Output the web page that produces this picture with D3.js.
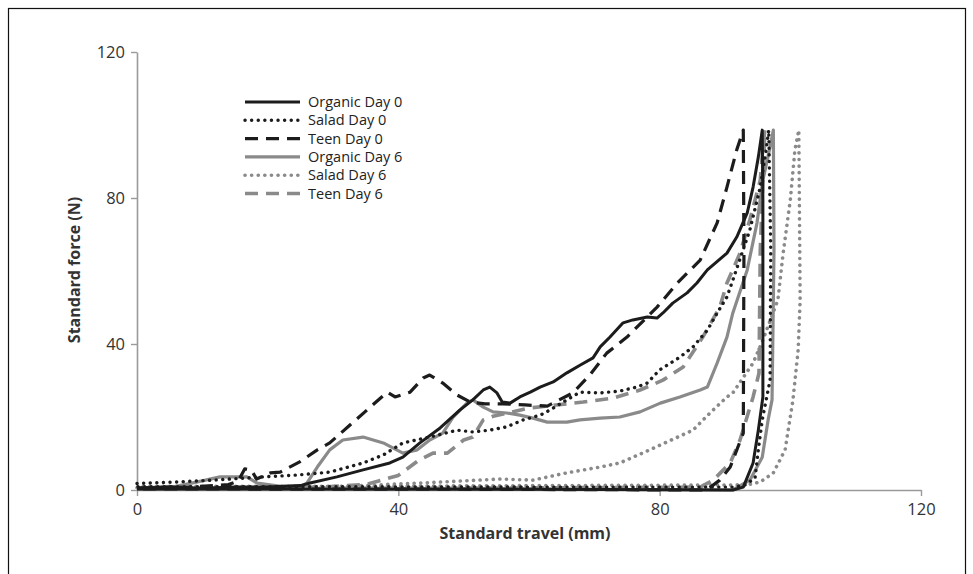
<!DOCTYPE html>
<html>
<head>
<meta charset="utf-8">
<script src="https://cdn.jsdelivr.net/npm/d3@7"></script>
<style>
  body { margin: 0; background: #fff; }
  svg { display: block; font-family: "Open Sans", "Noto Sans", sans-serif; }
</style>
</head>
<body>
<svg id="chart" width="973" height="574"></svg>
<script>
// travel (mm), force (N) pairs
const organicDay0 = [
  [0, 0.5], [5, 0.8], [10, 0.5], [15, 0.8], [20, 0.8], [25, 1.2], [26.5, 1.9], [30.6, 3.6], [34.6, 5.5],
  [38.7, 7.4], [40.7, 9.0], [43.3, 12.9], [46.4, 17.0], [49.4, 21.9], [51.4, 24.7], [53, 27.4], [54, 28.2],
  [55.1, 26.6], [55.9, 24.1], [57.1, 23.8], [58.6, 25.5], [60.2, 26.8], [61.7, 28.2], [63.7, 29.6],
  [65.8, 32.1], [67.8, 34.2], [69.8, 36.2], [70.9, 39.2], [72.4, 41.9], [74.4, 45.8], [75.9, 46.6],
  [78.1, 47.4], [79.6, 47.1], [80.5, 48.5], [82, 51.2], [84.2, 54], [85.7, 56.7], [87.3, 60.3],
  [90.3, 64.9], [91.8, 69.3], [93.4, 75.9], [94.3, 83], [95.1, 91.2], [95.7, 98.6],
  [95.8, 79.5], [95.8, 25.5], [95.1, 16.4], [94.3, 7.4], [92.8, 0.8], [91.2, 0], [60, 0.2], [0, 0.3]
];
const saladDay0 = [
  [0, 1.8], [6, 2.2], [11.6, 2.7], [19.3, 3.6], [24.5, 4.1], [29.5, 4.9], [34.6, 7.4], [37.7, 9.6],
  [40.7, 12.9], [44.8, 14.5], [49, 16.4], [51.4, 15.9], [54, 16.4], [56.6, 17.3], [59.1, 19.2],
  [61.7, 20.5], [63.2, 21.9], [65.8, 24.7], [67.8, 26.8], [70.9, 26.6], [73.9, 27.1], [76.5, 28.2],
  [78.1, 29.3], [80, 32.9], [83.1, 36.4], [85.1, 39.2], [87.3, 43.8], [88.8, 48.5], [90.3, 52.9],
  [91.2, 57.5], [93.8, 71.2], [95.4, 83], [96.3, 93.2], [96.7, 98.6],
  [97, 65.8], [96.9, 30.1], [95.7, 19.2], [95.1, 11], [94.6, 3.3], [93.1, 1.4], [91.5, 0.8],
  [60, 0.8], [30, 0.9], [0, 0.9]
];
const teenDay0 = [
  [0, 0.5], [8, 0.8], [14, 1.5], [15.5, 2.5], [16.5, 5.8], [17.5, 5.5], [18.3, 3.0], [20.4, 4.7],
  [21.9, 4.9], [24.9, 7.7], [27.6, 11], [29.5, 12.9], [32.6, 17.8], [35.7, 22.7], [38.3, 26.8],
  [39.5, 25.5], [41.8, 26.8], [43.8, 30.7], [44.8, 31.5], [46.8, 29.3], [49, 26], [51, 24.1],
  [53.3, 23.6], [56, 23.6], [59.4, 23.3], [62.8, 23], [66.7, 26.6], [69.3, 31.5], [71.9, 37.5],
  [75, 41.9], [79.6, 50.1], [82.7, 56.7], [86.2, 63], [88.8, 73.2], [90.3, 83], [91.8, 93.2], [92.8, 98.6],
  [92.9, 65.8], [92.8, 15.6], [90.8, 6.3], [89.2, 2.7], [87.2, 0], [50, 0.2], [0, 0.3]
];
const organicDay6 = [
  [0, 0.5], [6, 1.0], [10, 2.5], [12.7, 3.6], [16.8, 3.6], [18.4, 1.9], [22, 1.0], [25, 1.0], [26, 1.9],
  [27.6, 6.3], [29.5, 11], [31.5, 13.7], [34.6, 14.5], [37.7, 12.9], [40.7, 10.1], [42.9, 11], [44.8, 13.7],
  [46.8, 15.6], [48.4, 20], [50.5, 23.8], [51.4, 24.7], [53, 22.7], [54.5, 21.4], [56.6, 21.1], [58.6, 20.5],
  [60.6, 19.7], [62.8, 18.6], [65.8, 18.6], [67.8, 19.2], [70.9, 19.7], [73.9, 20], [77, 21.4], [80.1, 23.8],
  [83.1, 25.5], [86.2, 27.4], [87.3, 28.2], [88.8, 34.8], [90.3, 41.9], [91.2, 48.5], [93.4, 60.3],
  [94.9, 73.2], [95.8, 84.9], [96.9, 94], [97.4, 98.6],
  [97.5, 65.8], [97.2, 24.7], [96.6, 19.2], [95.7, 9.0], [93.8, 2.7], [91.2, 0], [50, 0.4], [0, 0.5]
];
const saladDay6 = [
  [0, 0.6], [10, 0.7], [20, 0.7], [30, 0.9], [43.3, 1.9], [55.6, 3.0], [60.6, 2.7], [65.8, 4.7],
  [70.9, 6.3], [73.9, 7.4], [78.5, 11], [85.1, 16.4], [87.7, 21.1], [90.3, 25.5], [91.2, 26.6],
  [94.3, 34.8], [95.8, 41.1], [98.1, 52.1], [98.9, 64.9], [100, 79.5], [100.7, 93.2], [101.3, 98.6],
  [101.5, 52.1], [101.2, 38.4], [100.4, 24.7], [99.2, 11], [97.4, 4.7], [95.4, 2.2], [93.4, 1.4],
  [60, 1.2], [30, 1.0], [0, 1.0]
];
const teenDay6 = [
  [0, 0.3], [10, 0.5], [20, 0.6], [28, 0.8], [35, 1.5], [40, 4], [43, 8], [45.3, 10.1], [47.5, 10.1],
  [50, 13.7], [51.4, 14.5], [53, 19.2], [54.5, 20.2], [60.2, 22.5], [68.3, 24.1], [72.9, 25.2], [77, 27.4],
  [80.5, 30.1], [83.6, 33.7], [86.6, 41.9], [89.2, 50.1], [90.3, 56.7], [92.3, 64.9], [93.8, 74],
  [95.4, 84.9], [95.8, 94], [96.1, 98.6],
  [95.4, 65.8], [95.2, 32], [94.3, 25.5], [92.3, 13.7], [90.8, 7.4], [88.2, 2.7], [86.2, 0.8], [50, 0.5], [0, 0.5]
];

const seriesNames = ['Organic Day 0', 'Salad Day 0', 'Teen Day 0', 'Organic Day 6', 'Salad Day 6', 'Teen Day 6'];
const seriesData = [organicDay0, saladDay0, teenDay0, organicDay6, saladDay6, teenDay6];
const xTicks = [0, 40, 80, 120];
const yTicks = [0, 40, 80, 120];

const dark = '#1c1c1c', grey = '#8a8a8a';
const styles = [
  { color: dark, width: 3, dash: null, cap: 'butt' },
  { color: dark, width: 3.4, dash: '0.1,6.5', cap: 'round' },
  { color: dark, width: 3.2, dash: '13,8', cap: 'butt' },
  { color: grey, width: 3.2, dash: null, cap: 'butt' },
  { color: grey, width: 3.6, dash: '0.1,6.5', cap: 'round' },
  { color: grey, width: 3.6, dash: '13,8', cap: 'butt' }
];

const svg = d3.select('#chart');

// outer frame
svg.append('rect')
  .attr('x', 8.5).attr('y', 8.5).attr('width', 957).attr('height', 600)
  .attr('fill', 'none').attr('stroke', '#111').attr('stroke-width', 1.2);

const x = d3.scaleLinear().domain([0, 120]).range([137, 921]);
const y = d3.scaleLinear().domain([0, 120]).range([490, 52]);

const xAxis = svg.append('g')
  .attr('transform', `translate(0,${y(0)})`)
  .call(d3.axisBottom(x).tickValues(xTicks).tickSize(6).tickPadding(7).tickSizeOuter(0));
const yAxis = svg.append('g')
  .attr('transform', `translate(${x(0)},0)`)
  .call(d3.axisLeft(y).tickValues(yTicks).tickSize(6).tickPadding(6).tickSizeOuter(0));

[xAxis, yAxis].forEach(g => {
  g.select('.domain').attr('stroke', '#9a9a9a').attr('stroke-width', 1.6);
  g.selectAll('.tick line').attr('stroke', '#9a9a9a').attr('stroke-width', 1.4);
  g.selectAll('.tick text').attr('fill', '#333').attr('font-size', 16.5)
    .attr('font-family', '"Open Sans", sans-serif');
});

const line = d3.line().x(d => x(d[0])).y(d => y(d[1]));

// draw grey series first, then black ones on top
[3, 4, 5, 0, 1, 2].forEach(i => {
  const s = styles[i];
  svg.append('path')
    .datum(seriesData[i])
    .attr('d', line)
    .attr('fill', 'none')
    .attr('stroke', s.color)
    .attr('stroke-width', s.width)
    .attr('stroke-dasharray', s.dash)
    .attr('stroke-linecap', s.cap)
    .attr('stroke-linejoin', 'round');
});

// axis titles
svg.append('text')
  .attr('x', 525).attr('y', 539)
  .attr('text-anchor', 'middle')
  .attr('font-size', 16).attr('font-weight', 700).attr('fill', '#333')
  .text('Standard travel (mm)');
svg.append('text')
  .attr('transform', 'translate(80,270) rotate(-90)')
  .attr('text-anchor', 'middle')
  .attr('font-size', 16).attr('font-weight', 700).attr('fill', '#333')
  .text('Standard force (N)');

// legend
const legend = svg.append('g').attr('transform', 'translate(245,102)');
seriesNames.forEach((name, i) => {
  const s = styles[i];
  const row = legend.append('g').attr('transform', `translate(0,${i * 18.3})`);
  row.append('line')
    .attr('x1', 0).attr('x2', 55).attr('y1', 0).attr('y2', 0)
    .attr('stroke', s.color).attr('stroke-width', s.width)
    .attr('stroke-dasharray', s.dash).attr('stroke-linecap', s.cap);
  row.append('text')
    .attr('x', 63).attr('y', 5)
    .attr('font-size', 14.5).attr('fill', '#222')
    .text(name);
});
</script>
</body>
</html>
